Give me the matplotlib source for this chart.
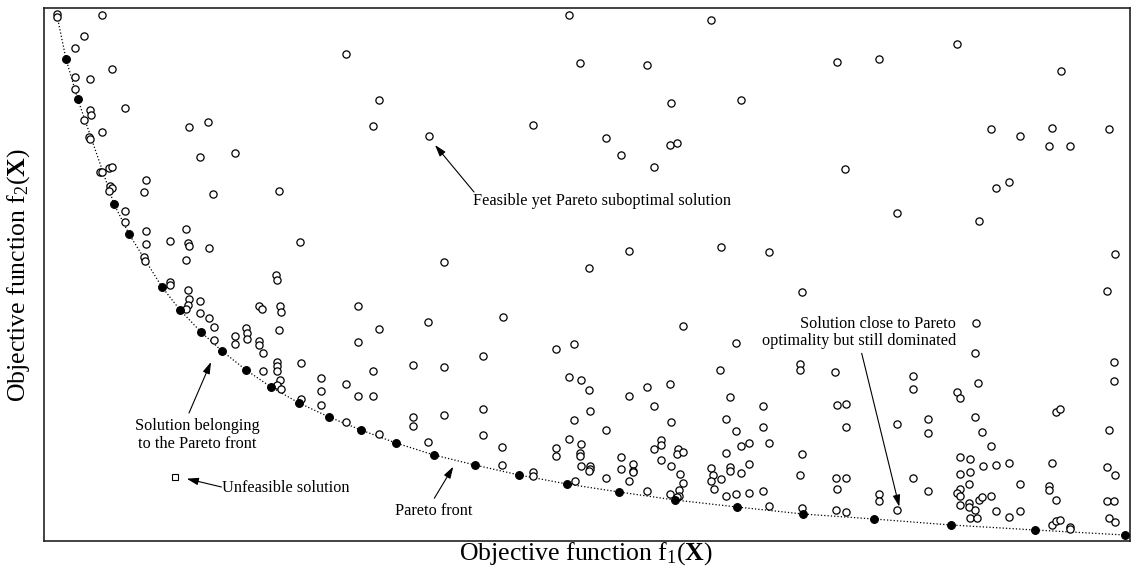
import matplotlib
matplotlib.use('Agg')
import matplotlib.pyplot as plt

plt.rcParams['font.family'] = ['Liberation Serif', 'DejaVu Serif']
plt.rcParams['mathtext.fontset'] = 'custom'
plt.rcParams['mathtext.rm'] = 'Liberation Serif'
plt.rcParams['mathtext.bf'] = 'Liberation Serif:bold'
plt.rcParams['mathtext.it'] = 'Liberation Serif:italic'

# Pareto-optimal solutions (filled)
pareto_f1 = [22, 33.7, 70, 85, 118, 136, 157, 178, 202, 227, 255, 285, 317, 352, 390,
             431, 475, 523, 575, 631, 693, 759, 830, 907, 991, 1081]
pareto_f2 = [482, 442, 337, 307, 254, 231, 209, 190, 171, 154, 138, 124, 111, 98, 86,
             76, 66, 57, 49, 41, 34, 27, 22, 16, 11, 6]

# start of the Pareto front curve
front_start_f1 = 12.5
front_start_f2 = 528

# Feasible, dominated solutions (open circles)
dominated_f1 = [
    12.7, 13.3, 58.3, 39.7, 30.7, 68.3, 30.7, 45.7, 30.7, 81, 45.7, 47, 39.7, 44.7, 46.3,
    58.3, 145.3, 163.7, 155.7, 56, 57.7, 64.7, 68.3, 101.7, 65.7, 68.3, 65.3, 100.3,
    190.7, 169.3, 235.3, 80.7, 80.7, 102, 102, 142, 125.7, 144.3, 145.3, 164.7, 256,
    100.3, 101, 141.7, 232.3, 233, 125.7, 126, 144.3, 145, 155.7, 144.3, 141.7, 215,
    218.3, 236.3, 236.7, 155.7, 164.7, 169.7, 202.3, 202.7, 202.7, 235.3, 190.7, 190.7,
    169.7, 215, 215,
    218.7, 232.7, 232.7, 232.7, 256.7, 218.7, 236, 232.7, 237, 276.7, 276.7, 301.7,
    256.7, 276.7, 301.7,
    384.3, 458.7, 335, 314.3, 328.7, 368.7, 400.3, 438.7, 314.3, 328.7, 368.7, 368.7,
    400.3, 438.7, 335, 384.3, 438.7, 458.3, 458.3, 488.7, 488.7,
    639, 511.7, 530.3, 525.3, 537, 545.3, 585.3, 603, 626, 610.3, 546.3, 530.3, 561.7,
    627, 525.3, 512, 512, 537, 536, 536.3, 537, 546, 546, 545, 576.7, 576.7, 588.7,
    588.7, 589.3, 562, 585.3, 530.7, 610.3, 617, 617, 617, 627.3, 634.3, 632.7, 639.3,
    636, 639.3, 603, 626, 635.3, 634.7, 632.7,
    757.7, 691.7, 676.3, 756, 756, 791.3, 686, 719.3, 793, 801.7, 681.7, 691.7, 719.3,
    802.3, 697.3, 705.3, 725, 681.7, 757.7, 667.3, 669.3, 667.3, 676.7, 670, 686, 686,
    697, 705.3, 756, 791.7, 802.3, 792.7, 681.7, 691.7, 705.3, 719.3, 725, 757.7,
    791.7, 801.7,
    932.3, 931, 869.3, 869.3, 912.7, 916, 934.3, 852.7, 884.3, 884.3, 931, 938.3, 947.3,
    916, 926, 916, 926, 938.7, 952, 869.3, 884.3, 925, 916, 912.7, 916, 835.3, 835.3,
    852.7, 916, 924.7, 924.7, 934.7, 938, 947, 931, 926, 932.7, 952,
    1062.7, 1069.7, 1069.7, 1011.7, 1016.3, 1065, 965, 1008, 1062.7, 1071, 975.7, 1005,
    1005, 1011.7, 1062.7, 1070, 965, 975.7, 1008, 1011.7, 1016.3, 1025.7, 1026, 1065,
    1071,
    525.3, 301.7, 536, 603, 627, 334.7, 328.7, 384.7, 488.7, 561.7, 577, 610.3, 626, 633,
    400, 545, 585.3, 314,
    667.3, 913, 792.7, 834.7, 1016.7, 697, 947, 975.7, 1008.3, 1065.3, 1005, 1026, 801.3,
    952.3, 965, 852.7, 935, 676.7, 725, 1071,
]
dominated_f2 = [
    527, 524.3, 526, 505, 492.7, 472.3, 464.3, 461.7, 452, 433.3, 431.3, 426, 421.3,
    403.7, 401.7, 409, 414, 418.7, 384.3, 369, 369, 373.3, 374.3, 361.3, 355.3, 353.3,
    350, 348.7,
    388.3, 347.3, 350.3, 330.3, 319, 309.7, 297.3, 311.7, 300, 297.7, 295.3, 292.7, 298.7,
    283.7, 280.3, 280.7, 266.3, 261.3, 258.7, 256, 251, 242, 240.3, 235.7, 232.3, 235.3,
    231.7, 235.3, 228.7, 227.7, 223, 213.7, 212.7, 207.7, 202.5, 211, 205, 196.7, 201,
    199.7, 196,
    187.7, 179.3, 175, 170.3, 178.3, 170.3, 161, 156, 152, 163.3, 150.3, 157, 141.7,
    135.7, 119.3,
    219.3, 224.3, 212.5, 199, 170, 176, 174, 185, 144.7, 144.7, 123.7, 115.3, 126.3, 132,
    107, 99.3, 106, 94.3, 75.7, 69.3, 65,
    215, 192.3, 197, 163.7, 160.7, 151, 145, 154.3, 157.3, 135.3, 130.3, 120.7, 110.7,
    119, 102.3, 93, 85.3, 97.3, 88.3, 85.3, 75.3, 75.3, 72.3, 70.3, 84, 71.7, 76.7, 70.3,
    68.7, 63, 60.3, 60.3, 91.7, 101, 95.7, 80.7, 75.3, 92, 87, 89, 67, 58, 50.3, 47.3,
    51, 45.3, 44,
    249.5, 197.7, 171, 177, 171, 169.3, 144, 134.7, 136, 136.7, 121.7, 110.3, 114, 114,
    95, 98.3, 98, 88.3, 87, 73.3, 66.3, 59.7, 62, 52.3, 74, 70, 68, 76.7, 66.3, 63.3,
    63.3, 52.3, 45.3, 47.3, 48.3, 50.3, 34.7, 32.7, 31, 29.3,
    217.7, 187.7, 165, 151.7, 149.3, 143.3, 158, 117.3, 122.3, 107.7, 124.3, 109.3, 94.7,
    84.3, 82.3, 67, 69.3, 75, 75.7, 62.7, 50.3, 57, 52.3, 47.7, 45.3, 46.7, 40.3, 31, 36,
    38.3, 33.7, 41, 44, 44.7, 31, 23.3, 23.3, 30,
    250, 178.7, 159.7, 128.7, 132, 111.3, 77.7, 78, 74, 66, 57.3, 55, 50.7, 41.3, 40.3,
    40.3, 23.7, 30.3, 16, 20.3, 20.7, 13.7, 11.7, 23, 18.7,
    526, 487.3, 478, 476, 438.3, 441.3, 414.7, 404.7, 416, 403.3, 386.3, 373.7, 395.7,
    398.3, 279.3, 273.3, 289.7, 235,
    520.7, 497.3, 478.7, 482, 469.7, 440.7, 412.3, 405, 413.3, 412.3, 395, 395, 371.7,
    353.3, 359.3, 327.7, 320, 294, 289.3, 287.3,
]

# Infeasible solution
infeasible_f1 = [131.3]
infeasible_f2 = [64]

F1_MAX = 1086
F2_MAX = 533

fig = plt.figure(figsize=(11.31, 5.69), dpi=100)
ax = fig.add_axes([44 / 1131, 28 / 569, 1086 / 1131, 533 / 569])
ax.set_xlim(0, F1_MAX)
ax.set_ylim(0, F2_MAX)
ax.set_xticks([])
ax.set_yticks([])
for s in ax.spines.values():
    s.set_linewidth(1.2)
    s.set_color('#222222')

ax.plot([front_start_f1] + pareto_f1, [front_start_f2] + pareto_f2, linestyle=':',
        color='black', linewidth=0.9, zorder=1)
ax.plot(dominated_f1, dominated_f2, linestyle='none', marker='o', markersize=5.2,
        markerfacecolor='white', markeredgecolor='black', markeredgewidth=0.9, zorder=2)
ax.plot(pareto_f1, pareto_f2, linestyle='none', marker='o', markersize=5.6,
        markerfacecolor='black', markeredgecolor='black', markeredgewidth=0.8, zorder=3)
ax.plot(infeasible_f1, infeasible_f2, linestyle='none', marker='s', markersize=4.2,
        markerfacecolor='white', markeredgecolor='black', markeredgewidth=0.8, zorder=3)

fs = 11.7
arrow = dict(arrowstyle='-|>,head_length=0.7,head_width=0.22', color='black',
             linewidth=0.8, shrinkA=0, shrinkB=0)

ax.annotate('', xy=(391, 396), xytext=(430, 349), arrowprops=arrow)
ax.text(429, 340, 'Feasible yet Pareto suboptimal solution', fontsize=fs,
        ha='left', va='center')

ax.annotate('', xy=(855.3, 34.3), xytext=(817.7, 187.7), arrowprops=arrow)
ax.text(912, 208.5, 'Solution close to Pareto\noptimality but still dominated',
        fontsize=fs, ha='right', va='center', multialignment='right', linespacing=1.1)

ax.annotate('', xy=(167, 179), xytext=(145, 128), arrowprops=arrow)
ax.text(153, 106, 'Solution belonging\nto the Pareto front', fontsize=fs,
        ha='center', va='center', linespacing=1.1)

ax.annotate('', xy=(142.7, 62.3), xytext=(177.5, 54), arrowprops=arrow)
ax.text(177.7, 53, 'Unfeasible solution', fontsize=fs, ha='left', va='center')

ax.annotate('', xy=(409.3, 74.3), xytext=(390.3, 42.7), arrowprops=arrow)
ax.text(389.7, 30.3, 'Pareto front', fontsize=fs, ha='center', va='center')

fig.text(586 / 1131, 1 - 554 / 569, r'Objective function $\mathrm{f}_1(\mathbf{X})$',
         fontsize=18.5, ha='center', va='center')
fig.text(19 / 1131, 1 - 275 / 569, r'Objective function $\mathrm{f}_2(\mathbf{X})$',
         fontsize=18.5, ha='center', va='center', rotation=90)

fig.savefig('out.png', dpi=100)
